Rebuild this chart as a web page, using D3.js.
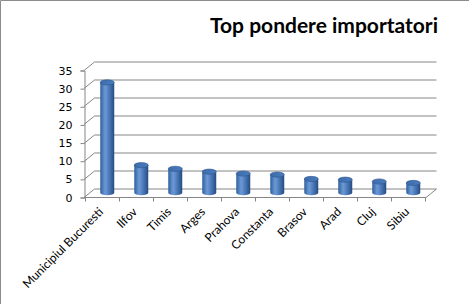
<!DOCTYPE html>
<html>
<head>
<meta charset="utf-8">
<script src="https://cdn.jsdelivr.net/npm/d3@7"></script>
<style>
  body { margin: 0; background: #fff; }
  svg { display: block; }
</style>
</head>
<body>
<div id="chart"></div>
<script>
// data
const judete = ["Municipiul Bucuresti", "Ilfov", "Timis", "Arges", "Prahova",
                "Constanta", "Brasov", "Arad", "Cluj", "Sibiu"];
const pondere = [30.4, 7.6, 6.6, 5.8, 5.3, 5.0, 3.8, 3.6, 3.1, 2.7];
const yTicks = [0, 5, 10, 15, 20, 25, 30, 35];
const titlu = "Top pondere importatori";

const data = judete.map((j, i) => ({judet: j, val: pondere[i]}));

const W = 469, H = 304;
// 3D depth offset of the back wall
const dx = 10.5, dy = -8.5;
const gridColor = "#868686";

const svg = d3.select("#chart").append("svg")
    .attr("width", W)
    .attr("height", H);

// outer chart border (only top and left visible)
svg.append("path")
    .attr("d", `M0.5,${H} V0.5 H${W}`)
    .attr("fill", "none")
    .attr("stroke", "#8c8c8c")
    .attr("stroke-width", 1);

// title
svg.append("text")
    .attr("x", 438)
    .attr("y", 33)
    .attr("text-anchor", "end")
    .style("font-family", "Lato, sans-serif")
    .style("font-weight", "bold")
    .style("font-size", "21px")
    .text(titlu);

// scales
const x = d3.scaleBand()
    .domain(judete)
    .range([85, 425]);

const y = d3.scaleLinear()
    .domain([0, 35])
    .range([197, 70]);

const x0 = x.range()[0] - 1, x1 = x.range()[1] + 1;

// side wall diagonals + back wall gridlines
const grid = svg.append("g")
    .attr("stroke", gridColor)
    .attr("stroke-width", 1)
    .attr("fill", "none");

yTicks.forEach(t => {
  const yy = Math.round(y(t)) + 0.5;
  grid.append("path")
      .attr("d", `M${x0},${yy} L${x0 + dx},${yy + dy} H${x1 + dx}`);
});

// floor right edge
grid.append("path")
    .attr("d", `M${x1},${Math.round(y(0)) + 0.5} L${x1 + dx},${Math.round(y(0)) + 0.5 + dy}`);

// y axis
const yAxis = svg.append("g")
    .attr("transform", `translate(${x0 + 0.5},0.5)`)
    .call(d3.axisLeft(y).tickValues(yTicks).tickSize(4).tickPadding(8));
yAxis.select(".domain").attr("stroke", gridColor);
yAxis.selectAll(".tick line").attr("stroke", gridColor);
yAxis.selectAll("text")
    .style("font-family", "DejaVu Sans, sans-serif")
    .style("font-size", "11px")
    .attr("fill", "#000");

// x axis line and ticks at category boundaries
const xAxisY = Math.round(y(0)) + 0.5;
svg.append("line")
    .attr("x1", x0).attr("x2", x1)
    .attr("y1", xAxisY).attr("y2", xAxisY)
    .attr("stroke", gridColor);

const bounds = judete.map(j => x(j)).concat([x.range()[1]]);
svg.selectAll(".xtick")
    .data(bounds)
    .enter().append("line")
    .attr("class", "xtick")
    .attr("x1", d => Math.round(d) + 0.5)
    .attr("x2", d => Math.round(d) + 0.5)
    .attr("y1", xAxisY)
    .attr("y2", xAxisY + 4)
    .attr("stroke", gridColor);

// category labels, rotated
svg.selectAll(".xlabel")
    .data(judete)
    .enter().append("text")
    .attr("class", "xlabel")
    .attr("text-anchor", "end")
    .attr("transform", d => `translate(${x(d) + x.bandwidth() / 2 + 2},${xAxisY + 15}) rotate(-45)`)
    .style("font-family", "Lato, sans-serif")
    .style("font-size", "12px")
    .text(d => d);

// cylinder gradients
const defs = svg.append("defs");
const side = defs.append("linearGradient")
    .attr("id", "cylSide")
    .attr("x1", "0").attr("x2", "1").attr("y1", "0").attr("y2", "0");
side.append("stop").attr("offset", "0%").attr("stop-color", "#2f5f9c");
side.append("stop").attr("offset", "35%").attr("stop-color", "#6d9ad6");
side.append("stop").attr("offset", "55%").attr("stop-color", "#5584c4");
side.append("stop").attr("offset", "100%").attr("stop-color", "#254c82");

const topG = defs.append("linearGradient")
    .attr("id", "cylTop")
    .attr("x1", "0").attr("x2", "1").attr("y1", "0").attr("y2", "0");
topG.append("stop").attr("offset", "0%").attr("stop-color", "#3d6cab");
topG.append("stop").attr("offset", "100%").attr("stop-color", "#4a7bbd");

// cylinders sit halfway into the depth
const rx = 7, ry = 2.6;
const bars = svg.selectAll(".cyl")
    .data(data)
    .enter().append("g")
    .attr("class", "cyl")
    .attr("transform", d => `translate(${x(d.judet) + x.bandwidth() / 2 + dx / 2},${dy / 2})`);

bars.append("path")
    .attr("d", d => {
      const yb = y(0), yt = y(d.val);
      return `M${-rx},${yt} V${yb} A${rx},${ry} 0 0 0 ${rx},${yb} V${yt} Z`;
    })
    .attr("fill", "url(#cylSide)");

bars.append("ellipse")
    .attr("cx", 0)
    .attr("cy", d => y(d.val))
    .attr("rx", rx)
    .attr("ry", ry)
    .attr("fill", "url(#cylTop)")
    .attr("stroke", "#2a558f")
    .attr("stroke-width", 0.6);
</script>
</body>
</html>
